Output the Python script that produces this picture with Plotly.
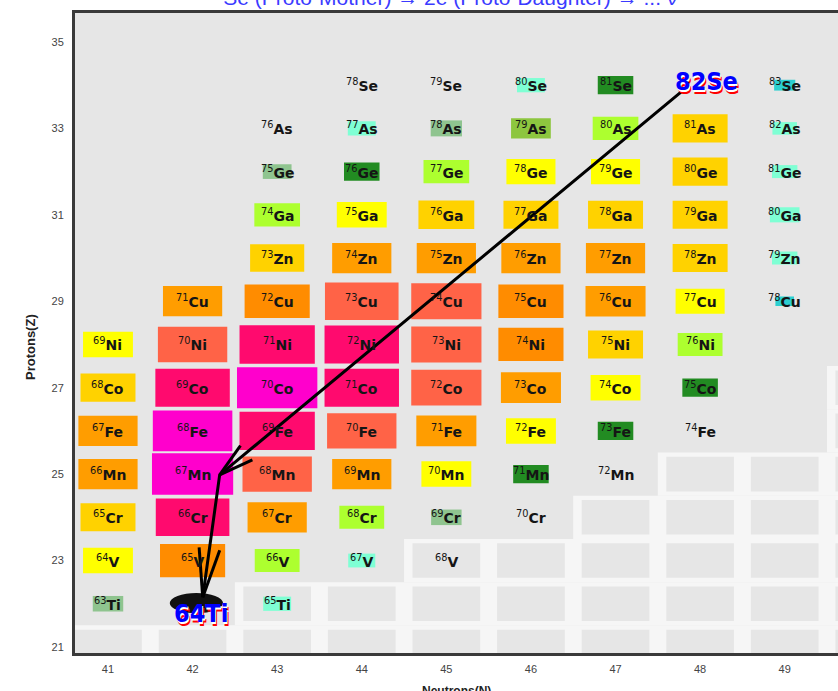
import math
import plotly.graph_objects as go

# ---------------- data ----------------
elem_Z = [22, 23, 24, 25, 26, 27, 28, 29, 30, 31, 32, 33, 34]
elem_sym = ["Ti", "V", "Cr", "Mn", "Fe", "Co", "Ni", "Cu", "Zn", "Ga", "Ge", "As", "Se"]

# colour classes used on the chart
palette = {
    "none": None,
    "magenta": "#ff00cc",
    "dpink": "#ff0a6e",
    "tomato": "#ff6347",
    "dorange": "#ff8c00",
    "orange": "#ff9d00",
    "gold": "#ffd200",
    "yellow": "#ffff00",
    "gyellow": "#adff2f",
    "ygreen": "#8dc63f",
    "fgreen": "#228b22",
    "dsgreen": "#8fc48f",
    "aqua": "#7fffd4",
    "teal": "#2ccfd0",
}

# nuclides (Z, N, colour class, relative box size)
nuc_Z = ([34] * 5 + [33] * 7 + [32] * 7 + [31] * 7 + [30] * 7 + [29] * 8 + [28] * 8 +
         [27] * 8 + [26] * 8 + [25] * 7 + [24] * 6 + [23] * 5 + [22] * 2)
nuc_N = [44, 45, 46, 47, 49,
         43, 44, 45, 46, 47, 48, 49,
         43, 44, 45, 46, 47, 48, 49,
         43, 44, 45, 46, 47, 48, 49,
         43, 44, 45, 46, 47, 48, 49,
         42, 43, 44, 45, 46, 47, 48, 49,
         41, 42, 43, 44, 45, 46, 47, 48,
         41, 42, 43, 44, 45, 46, 47, 48,
         41, 42, 43, 44, 45, 46, 47, 48,
         41, 42, 43, 44, 45, 46, 47,
         41, 42, 43, 44, 45, 46,
         41, 42, 43, 44, 45,
         41, 43]
nuc_color = ["none", "none", "aqua", "fgreen", "teal",
             "none", "aqua", "dsgreen", "ygreen", "gyellow", "gold", "aqua",
             "dsgreen", "fgreen", "gyellow", "yellow", "yellow", "gold", "aqua",
             "gyellow", "yellow", "gold", "gold", "gold", "gold", "aqua",
             "gold", "orange", "orange", "orange", "orange", "gold", "aqua",
             "orange", "dorange", "tomato", "tomato", "dorange", "orange", "yellow", "teal",
             "yellow", "tomato", "dpink", "dpink", "tomato", "dorange", "gold", "gyellow",
             "gold", "dpink", "magenta", "dpink", "tomato", "orange", "yellow", "fgreen",
             "orange", "magenta", "dpink", "tomato", "orange", "yellow", "fgreen", "none",
             "orange", "magenta", "tomato", "orange", "yellow", "fgreen", "none",
             "gold", "dpink", "orange", "gyellow", "dsgreen", "none",
             "yellow", "dorange", "gyellow", "aqua", "none",
             "dsgreen", "aqua"]
nuc_size = [0, 0, 0.33, 0.42, 0.25,
            0, 0.33, 0.37, 0.47, 0.54, 0.65, 0.29,
            0.34, 0.42, 0.54, 0.58, 0.58, 0.65, 0.30,
            0.54, 0.59, 0.66, 0.65, 0.65, 0.65, 0.35,
            0.64, 0.70, 0.70, 0.70, 0.70, 0.65, 0.30,
            0.70, 0.77, 0.87, 0.83, 0.77, 0.71, 0.58, 0.22,
            0.59, 0.82, 0.89, 0.88, 0.83, 0.77, 0.65, 0.53,
            0.65, 0.88, 0.95, 0.88, 0.83, 0.71, 0.59, 0.42,
            0.70, 0.94, 0.89, 0.82, 0.71, 0.59, 0.42, 0,
            0.70, 0.96, 0.82, 0.70, 0.59, 0.42, 0,
            0.65, 0.87, 0.70, 0.53, 0.36, 0,
            0.59, 0.77, 0.53, 0.32, 0,
            0.36, 0.33]

# decay path: proto-mother -> 67Mn -> proto-daughter
mother = ("Se", 82, 48, 34)
daughter = ("Ti", 64, 42, 22)
path_N = [47.83, 42.32, 42.12]
path_Z = [33.93, 24.98, 22.15]

# unexplored region (staircase): row Z and first N of the region
unk_Z = [21, 22, 23, 24, 25, 26, 27]
unk_start_N = [40.5, 42.5, 44.5, 46.5, 47.5, 49.5, 49.5]
unk_last_N = 50

x_ticks = [41, 42, 43, 44, 45, 46, 47, 48, 49]
y_ticks = [21, 23, 25, 27, 29, 31, 33, 35]

# ---------------- layout geometry ----------------
W, H = 838, 691
ML, MR, MT, MB = 75, 0, 13, 38
XR = [40.61, 49.63]
YR = [20.86, 35.67]
pxN = (W - ML - MR) / (XR[1] - XR[0])
pxZ = (H - MT - MB) / (YR[1] - YR[0])

sym_of = dict(zip(elem_Z, elem_sym))
shapes = []
annotations = []

# unexplored region background + empty cells
for z, n0 in zip(unk_Z, unk_start_N):
    shapes.append(dict(type="rect", xref="x", yref="y", x0=n0, x1=unk_last_N + 1,
                       y0=z - 0.5 if z > 21 else 20.0, y1=z + 0.5,
                       fillcolor="#f6f6f6", line=dict(width=0), layer="below"))
    n = math.ceil(n0)
    while n <= unk_last_N:
        shapes.append(dict(type="rect", xref="x", yref="y", x0=n - 0.4, x1=n + 0.4,
                           y0=z - 0.4, y1=z + 0.4, fillcolor="#e6e6e6",
                           line=dict(width=0), layer="below"))
        n += 1

# coloured nuclide boxes + labels
for z, n, c, s in zip(nuc_Z, nuc_N, nuc_color, nuc_size):
    col = palette[c]
    if col is not None and s > 0:
        shapes.append(dict(type="rect", xref="x", yref="y", x0=n - s / 2, x1=n + s / 2,
                           y0=z - s / 2, y1=z + s / 2, fillcolor=col,
                           line=dict(width=0), layer="below"))
    sym = sym_of[z]
    annotations.append(dict(x=n, y=z, xref="x", yref="y", showarrow=False,
                            text=f"<sup>{n + z}</sup><b>{sym}</b>",
                            font=dict(family="DejaVu Sans", size=14, color="#151515"),
                            xanchor="center", yanchor="middle"))

# black blob on proto-daughter
shapes.append(dict(type="circle", xref="x", yref="y",
                   x0=daughter[2] - 0.27, x1=daughter[2] + 0.36,
                   y0=daughter[3] - 0.22, y1=daughter[3] + 0.25,
                   fillcolor="#111111", line=dict(width=0), layer="below"))

# decay path arrows (shaft + open V heads)
def arm_points(tail, tip, theta_deg, length_px):
    dx = (tail[0] - tip[0]) * pxN
    dy = (tail[1] - tip[1]) * pxZ
    d = math.hypot(dx, dy)
    ux, uy = dx / d, dy / d
    pts = []
    for sgn in (1, -1):
        th = math.radians(sgn * theta_deg)
        rx = ux * math.cos(th) - uy * math.sin(th)
        ry = ux * math.sin(th) + uy * math.cos(th)
        pts.append((tip[0] + length_px * rx / pxN, tip[1] + length_px * ry / pxZ))
    return pts

xs = list(path_N)
ys = list(path_Z)
heads = [(0, 1, 15, 36), (1, 2, 12, 50)]
for i_tail, i_tip, th, L in heads:
    tail = (path_N[i_tail], path_Z[i_tail])
    tip = (path_N[i_tip], path_Z[i_tip])
    for p in arm_points(tail, tip, th, L):
        xs += [None, tip[0], p[0]]
        ys += [None, tip[1], p[1]]

fig = go.Figure()
fig.add_trace(go.Scatter(x=xs, y=ys, mode="lines",
                         line=dict(color="#000000", width=3),
                         hoverinfo="skip", showlegend=False))

# big blue/red labels for mother and daughter
big_font = "Liberation Sans Narrow, Arial Narrow, DejaVu Sans Condensed, Liberation Sans"
for (sym, A, n, z), xs_, ys_ in [(mother, 6, 4), (daughter, 8, -10)]:
    for col, dx, dy in [("#ff0000", 2, -4), ("#ffffff", 1, -2), ("#0000ff", 0, 0)]:
        annotations.append(dict(x=n, y=z, xref="x", yref="y", showarrow=False,
                                text=f"<b>{A}{sym}</b>", xshift=xs_ + dx, yshift=ys_ + dy,
                                font=dict(family=big_font, size=25, color=col)))

# title (cut off by the top edge) and axis titles
annotations.append(dict(xref="paper", yref="paper", x=0.481, y=1, yanchor="bottom",
                        xanchor="center", showarrow=False, yshift=2,
                        text="<sup>82</sup>Se (Proto-Mother) \u2192 2e (Proto-Daughter) \u2192 ... \u03bd",
                        font=dict(family="Liberation Sans", size=21, color="#3b3bff")))
annotations.append(dict(xref="paper", yref="paper", x=0.5, y=0, yanchor="top",
                        yshift=-29, showarrow=False, text="<b>Neutrons(N)</b>",
                        font=dict(family="Liberation Sans", size=12, color="#222222")))
annotations.append(dict(xref="paper", yref="paper", x=0, y=(H - MB - 347) / (H - MT - MB),
                        xshift=-45, xanchor="center", showarrow=False, textangle=-90,
                        text="<b>Protons(Z)</b>",
                        font=dict(family="Liberation Sans", size=13, color="#222222")))

fig.update_layout(
    width=W, height=H,
    margin=dict(l=ML, r=MR, t=MT, b=MB, pad=0),
    paper_bgcolor="#ffffff", plot_bgcolor="#e6e6e6",
    shapes=shapes, annotations=annotations, showlegend=False,
)
fig.update_xaxes(range=XR, tickvals=x_ticks, ticktext=[str(v) for v in x_ticks],
                 showgrid=False, zeroline=False, showline=True, linewidth=3,
                 linecolor="#3a3a3a", mirror=True, ticks="", ticklabelstandoff=4,
                 tickfont=dict(family="Liberation Sans", size=11, color="#444444"),
                 fixedrange=True, automargin=False)
fig.update_yaxes(range=YR, tickvals=y_ticks, ticktext=[str(v) for v in y_ticks],
                 showgrid=False, zeroline=False, showline=True, linewidth=3,
                 linecolor="#3a3a3a", mirror=False, ticks="", ticklabelstandoff=6,
                 tickfont=dict(family="Liberation Sans", size=11, color="#444444"),
                 fixedrange=True, automargin=False)

fig.write_html("out.html", config={"displayModeBar": False},
               post_script="document.body.style.margin='0';document.body.style.overflow='hidden';")
